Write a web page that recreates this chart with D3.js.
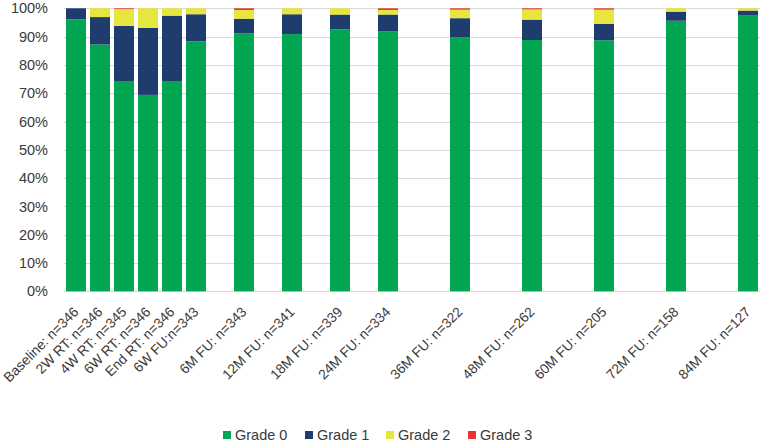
<!DOCTYPE html>
<html>
<head>
<meta charset="utf-8">
<script src="https://cdn.jsdelivr.net/npm/d3@7"></script>
<style>
  html, body { margin: 0; padding: 0; background: #fff; }
  svg { display: block; }
  text { font-family: "Liberation Sans", Arial, sans-serif; fill: #3a3a3a; }
</style>
</head>
<body>
<svg id="chart" width="762" height="444"></svg>
<script>
// Categories (empty strings are the blank spacer categories of the original chart)
const categories = [
  "Baseline: n=346", "2W RT: n=346", "4W RT: n=345", "6W RT: n=346", "End RT: n=346", "6W FU:n=343",
  "", "6M FU: n=343", "", "12M FU: n=341", "", "18M FU: n=339", "", "24M FU: n=334",
  "", "", "36M FU: n=322", "", "", "48M FU: n=262", "", "", "60M FU: n=205",
  "", "", "72M FU: n=158", "", "", "84M FU: n=127"
];
// Percent of patients per grade (null = blank category)
const grade0 = [96.1, 87.2, 74.3, 69.4, 74.3, 88.3, null, 91.2, null, 90.9, null, 92.6, null, 91.9, null, null, 89.7, null, null, 88.8, null, null, 88.7, null, null, 95.6, null, null, 97.6];
const grade1 = [3.9, 9.7, 19.5, 23.7, 23.1, 9.6, null, 5.1, null, 7.0, null, 5.2, null, 5.9, null, null, 6.8, null, null, 7.2, null, null, 5.8, null, null, 3.2, null, null, 1.6];
const grade2 = [0, 3.1, 5.9, 6.9, 2.6, 2.1, null, 3.1, null, 2.1, null, 2.2, null, 1.6, null, null, 3.0, null, null, 3.6, null, null, 5.0, null, null, 1.2, null, null, 0.8];
const grade3 = [0, 0, 0.3, 0, 0, 0, null, 0.6, null, 0, null, 0, null, 0.6, null, null, 0.5, null, null, 0.4, null, null, 0.5, null, null, 0, null, null, 0];
const seriesNames = ["Grade 0", "Grade 1", "Grade 2", "Grade 3"];
const yTicks = [0, 10, 20, 30, 40, 50, 60, 70, 80, 90, 100];

const colors = ["#00a651", "#1f3c6e", "#e6e63c", "#ee3333"];

const svg = d3.select("#chart");
const margin = { left: 64, right: 2, top: 8.3, bottom: 152.7 };
const W = 762, H = 444;

const x = d3.scaleBand()
  .domain(d3.range(categories.length))
  .range([margin.left, W - margin.right])
  .paddingInner(1 / 6)
  .paddingOuter(1 / 12);

const y = d3.scaleLinear().domain([0, 100]).range([H - margin.bottom, margin.top]);

// gridlines
svg.append("g").selectAll("line")
  .data(yTicks)
  .join("line")
  .attr("x1", margin.left).attr("x2", W - margin.right)
  .attr("y1", d => Math.round(y(d)) + 0.5).attr("y2", d => Math.round(y(d)) + 0.5)
  .attr("stroke", "#d9d9d9").attr("stroke-width", 1.2);

// y axis labels
const yAxis = d3.axisLeft(y).tickValues(yTicks).tickFormat(d => d + "%").tickSize(0).tickPadding(0);
const yg = svg.append("g").attr("transform", `translate(${margin.left - 16},0)`).call(yAxis);
yg.select(".domain").remove();
yg.selectAll("text").style("font-size", "14.5px").attr("fill", "#3a3a3a")
  .style("font-family", '"Liberation Sans", Arial, sans-serif');

// stacked bars
const idx = d3.range(categories.length).filter(i => grade0[i] !== null);
const stackData = idx.map(i => ({ i, g0: grade0[i], g1: grade1[i], g2: grade2[i], g3: grade3[i] }));
const stack = d3.stack().keys(["g0", "g1", "g2", "g3"]);
const layers = stack(stackData);

svg.append("g").selectAll("g")
  .data(layers)
  .join("g")
  .attr("fill", (d, k) => colors[k])
  .selectAll("rect")
  .data(d => d)
  .join("rect")
  .attr("x", d => x(d.data.i))
  .attr("width", x.bandwidth())
  .attr("y", d => y(d[1]))
  .attr("height", d => Math.max(0, y(d[0]) - y(d[1])));

// x axis labels
const xg = svg.append("g");
xg.selectAll("text")
  .data(idx)
  .join("text")
  .attr("transform", i => `translate(${x(i) + x.bandwidth() / 2},${H - margin.bottom + 18}) rotate(-45)`)
  .attr("text-anchor", "end")
  .attr("dy", "0.35em")
  .style("font-size", "13.8px")
  .text(i => categories[i]);

// legend
const legendX = [223, 305, 386, 468];
const lg = svg.append("g");
seriesNames.forEach((name, k) => {
  const g = lg.append("g").attr("transform", `translate(${legendX[k]},431)`);
  g.append("rect").attr("width", 8).attr("height", 8).attr("fill", colors[k]);
  g.append("text").attr("x", 12).attr("y", 4).attr("dy", "0.36em")
    .style("font-size", "14.5px").text(name);
});
</script>
</body>
</html>
